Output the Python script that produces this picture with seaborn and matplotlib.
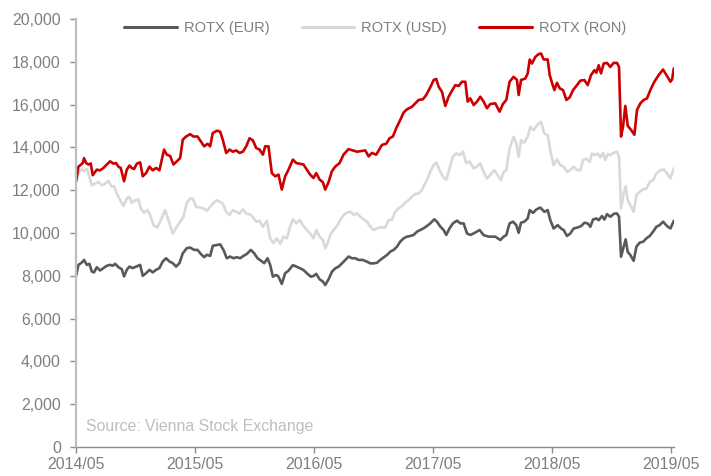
import pandas as pd
import matplotlib.pyplot as plt
import matplotlib.dates as mdates
import matplotlib.ticker as mticker
import seaborn as sns

# time is in years after 2014/05
t_eur = [0.000, 0.020, 0.048, 0.067, 0.090, 0.112, 0.132, 0.151, 0.174, 0.202, 0.230, 0.258, 0.286, 0.308,
         0.328, 0.356, 0.384, 0.403, 0.426, 0.448, 0.476, 0.504, 0.538, 0.560, 0.588, 0.616, 0.644, 0.672,
         0.700, 0.728, 0.756, 0.784, 0.812, 0.840, 0.868, 0.896, 0.930, 0.958, 0.992, 1.020, 1.048, 1.076,
         1.098, 1.126, 1.148, 1.182, 1.210, 1.238, 1.266, 1.294, 1.322, 1.350, 1.378, 1.406, 1.434, 1.468,
         1.496, 1.524, 1.552, 1.580, 1.608, 1.630, 1.653, 1.681, 1.700, 1.728, 1.756, 1.784, 1.821, 1.849,
         1.882, 1.910, 1.944, 1.972, 1.994, 2.017, 2.045, 2.073, 2.093, 2.121, 2.149, 2.177, 2.205, 2.233,
         2.261, 2.289, 2.317, 2.345, 2.373, 2.409, 2.443, 2.471, 2.499, 2.527, 2.555, 2.583, 2.611, 2.639,
         2.667, 2.695, 2.723, 2.751, 2.779, 2.807, 2.835, 2.863, 2.891, 2.919, 2.947, 2.975, 3.008, 3.031,
         3.059, 3.087, 3.109, 3.137, 3.165, 3.199, 3.227, 3.255, 3.283, 3.311, 3.339, 3.389, 3.423, 3.465,
         3.521, 3.563, 3.591, 3.613, 3.641, 3.669, 3.697, 3.717, 3.737, 3.765, 3.793, 3.810, 3.838, 3.866,
         3.899, 3.933, 3.961, 3.983, 4.011, 4.045, 4.073, 4.095, 4.123, 4.151, 4.179, 4.213, 4.241, 4.269,
         4.297, 4.319, 4.342, 4.370, 4.389, 4.417, 4.437, 4.459, 4.487, 4.521, 4.543, 4.560, 4.577, 4.599,
         4.616, 4.633, 4.655, 4.683, 4.706, 4.734, 4.762, 4.790, 4.818, 4.846, 4.874, 4.902, 4.930, 4.964,
         4.992, 5.020]
rotx_eur = [8.0, 8.51, 8.62, 8.74, 8.51, 8.56, 8.2, 8.16, 8.4, 8.25, 8.36, 8.47, 8.51, 8.47,
            8.56, 8.4, 8.31, 7.97, 8.28, 8.43, 8.36, 8.43, 8.51, 8.0, 8.12, 8.28, 8.16, 8.28,
            8.36, 8.67, 8.82, 8.67, 8.59, 8.43, 8.59, 9.05, 9.29, 9.32, 9.21, 9.21, 9.02, 8.87,
            8.98, 8.93, 9.4, 9.44, 9.47, 9.21, 8.82, 8.9, 8.82, 8.87, 8.82, 8.93, 9.02, 9.21,
            9.05, 8.82, 8.71, 8.59, 8.82, 8.51, 7.96, 8.04, 7.96, 7.62, 8.12, 8.24, 8.5, 8.43,
            8.35, 8.27, 8.09, 7.96, 7.99, 8.09, 7.84, 7.73, 7.57, 7.84, 8.19, 8.35, 8.43, 8.58,
            8.74, 8.9, 8.82, 8.82, 8.74, 8.74, 8.66, 8.58, 8.58, 8.61, 8.74, 8.86, 8.97, 9.13,
            9.21, 9.36, 9.6, 9.75, 9.83, 9.86, 9.91, 10.06, 10.14, 10.22, 10.33, 10.45, 10.64, 10.53,
            10.3, 10.14, 9.91, 10.22, 10.45, 10.58, 10.45, 10.45, 9.98, 9.91, 9.98, 10.14, 9.9, 9.83,
            9.83, 9.67, 9.83, 9.9, 10.45, 10.53, 10.37, 10.01, 10.48, 10.53, 10.68, 11.07, 10.94, 11.1,
            11.19, 10.99, 11.07, 10.6, 10.21, 10.37, 10.21, 10.14, 9.86, 9.98, 10.21, 10.26, 10.32, 10.48,
            10.45, 10.29, 10.63, 10.68, 10.6, 10.79, 10.63, 10.88, 10.76, 10.91, 10.91, 10.76, 8.89, 9.36,
            9.7, 9.12, 8.97, 8.7, 9.36, 9.55, 9.59, 9.75, 9.86, 10.06, 10.29, 10.37, 10.53, 10.32,
            10.21, 10.57]

t_usd = [0.000, 0.020, 0.048, 0.067, 0.090, 0.112, 0.132, 0.160, 0.188, 0.216, 0.244, 0.272, 0.300, 0.319,
         0.342, 0.370, 0.398, 0.426, 0.448, 0.468, 0.496, 0.524, 0.543, 0.571, 0.599, 0.622, 0.650, 0.683,
         0.711, 0.748, 0.776, 0.812, 0.846, 0.874, 0.902, 0.930, 0.958, 0.980, 1.008, 1.042, 1.070, 1.098,
         1.126, 1.154, 1.182, 1.210, 1.232, 1.260, 1.288, 1.316, 1.345, 1.373, 1.401, 1.429, 1.457, 1.485,
         1.513, 1.541, 1.569, 1.602, 1.630, 1.658, 1.686, 1.714, 1.742, 1.770, 1.798, 1.821, 1.849, 1.877,
         1.905, 1.938, 1.966, 1.994, 2.017, 2.045, 2.073, 2.093, 2.112, 2.140, 2.163, 2.191, 2.219, 2.247,
         2.275, 2.303, 2.331, 2.359, 2.387, 2.415, 2.443, 2.471, 2.499, 2.527, 2.555, 2.597, 2.625, 2.653,
         2.681, 2.709, 2.737, 2.765, 2.793, 2.821, 2.849, 2.877, 2.905, 2.924, 2.947, 2.975, 3.003, 3.025,
         3.053, 3.081, 3.109, 3.137, 3.165, 3.193, 3.221, 3.249, 3.277, 3.305, 3.339, 3.367, 3.395, 3.423,
         3.451, 3.479, 3.513, 3.541, 3.569, 3.591, 3.613, 3.641, 3.675, 3.697, 3.717, 3.737, 3.765, 3.793,
         3.815, 3.843, 3.871, 3.905, 3.933, 3.961, 3.983, 4.011, 4.039, 4.067, 4.095, 4.123, 4.151, 4.179,
         4.207, 4.235, 4.258, 4.286, 4.314, 4.333, 4.361, 4.381, 4.403, 4.426, 4.445, 4.465, 4.487, 4.515,
         4.543, 4.560, 4.577, 4.599, 4.616, 4.633, 4.655, 4.683, 4.706, 4.734, 4.762, 4.790, 4.818, 4.846,
         4.874, 4.908, 4.936, 4.964, 4.992, 5.020]
rotx_usd = [12.39, 12.78, 13.0, 12.9, 13.0, 12.62, 12.23, 12.31, 12.39, 12.23, 12.31, 12.43, 12.16, 12.19,
            11.84, 11.53, 11.26, 11.61, 11.69, 11.41, 11.53, 11.57, 11.15, 10.95, 11.07, 10.84, 10.37, 10.26,
            10.6, 11.07, 10.6, 9.98, 10.29, 10.53, 10.76, 11.41, 11.61, 11.61, 11.22, 11.19, 11.15, 11.04,
            11.22, 11.41, 11.53, 11.45, 11.38, 10.99, 10.84, 11.07, 10.99, 10.91, 11.1, 10.91, 10.88, 10.76,
            10.53, 10.57, 10.29, 10.57, 9.75, 9.52, 9.75, 9.49, 9.83, 9.75, 10.3, 10.64, 10.45, 10.61,
            10.37, 10.14, 9.98, 9.75, 10.14, 9.83, 9.67, 9.28, 9.52, 9.98, 10.14, 10.33, 10.61, 10.84,
            10.95, 11.0, 10.84, 10.92, 10.76, 10.64, 10.53, 10.3, 10.14, 10.22, 10.26, 10.26, 10.61, 10.61,
            11.0, 11.15, 11.26, 11.42, 11.54, 11.7, 11.82, 11.85, 12.01, 12.24, 12.48, 12.87, 13.18, 13.29,
            12.94, 12.63, 12.48, 13.02, 13.57, 13.72, 13.64, 13.8, 13.26, 13.34, 13.02, 13.1, 13.25, 12.86,
            12.55, 12.71, 12.94, 12.71, 12.47, 12.86, 12.94, 13.95, 14.5, 14.19, 13.56, 14.34, 14.22, 14.5,
            14.96, 14.81, 15.04, 15.2, 14.65, 14.57, 13.87, 13.17, 13.44, 13.17, 13.1, 12.86, 12.94, 13.1,
            12.94, 12.94, 13.41, 13.48, 13.33, 13.72, 13.64, 13.72, 13.53, 13.75, 13.41, 13.69, 13.64, 13.75,
            13.8, 13.56, 11.15, 11.85, 12.19, 11.54, 11.3, 10.99, 11.77, 11.93, 12.04, 12.08, 12.39, 12.47,
            12.78, 12.94, 12.97, 12.78, 12.55, 13.02]

t_ron = [0.000, 0.020, 0.056, 0.067, 0.084, 0.104, 0.123, 0.140, 0.174, 0.202, 0.230, 0.258, 0.286, 0.314,
         0.336, 0.356, 0.375, 0.403, 0.426, 0.448, 0.468, 0.487, 0.510, 0.538, 0.560, 0.588, 0.616, 0.644,
         0.672, 0.700, 0.720, 0.739, 0.762, 0.790, 0.818, 0.846, 0.874, 0.896, 0.924, 0.958, 0.986, 1.020,
         1.048, 1.076, 1.104, 1.126, 1.148, 1.182, 1.210, 1.232, 1.261, 1.289, 1.317, 1.345, 1.373, 1.401,
         1.429, 1.457, 1.485, 1.513, 1.541, 1.569, 1.588, 1.616, 1.644, 1.672, 1.700, 1.728, 1.756, 1.784,
         1.821, 1.849, 1.877, 1.910, 1.938, 1.966, 1.994, 2.017, 2.045, 2.073, 2.092, 2.120, 2.148, 2.176,
         2.213, 2.246, 2.288, 2.359, 2.429, 2.457, 2.485, 2.521, 2.569, 2.605, 2.633, 2.661, 2.689, 2.723,
         2.751, 2.779, 2.821, 2.849, 2.877, 2.913, 2.941, 2.975, 3.003, 3.025, 3.045, 3.073, 3.101, 3.129,
         3.157, 3.185, 3.213, 3.241, 3.269, 3.289, 3.311, 3.339, 3.367, 3.395, 3.423, 3.451, 3.479, 3.521,
         3.557, 3.585, 3.613, 3.641, 3.675, 3.703, 3.717, 3.737, 3.773, 3.793, 3.810, 3.829, 3.857, 3.885,
         3.905, 3.927, 3.961, 3.978, 3.997, 4.017, 4.039, 4.062, 4.090, 4.118, 4.146, 4.174, 4.207, 4.235,
         4.269, 4.297, 4.325, 4.353, 4.370, 4.389, 4.409, 4.431, 4.459, 4.487, 4.515, 4.543, 4.560, 4.577,
         4.594, 4.613, 4.633, 4.661, 4.689, 4.711, 4.739, 4.767, 4.795, 4.823, 4.857, 4.893, 4.930, 4.958,
         4.992, 5.006, 5.020]
rotx_ron = [12.42, 13.1, 13.27, 13.5, 13.27, 13.2, 13.25, 12.7, 12.96, 12.93, 13.04, 13.2, 13.35, 13.24,
            13.27, 13.1, 13.04, 12.42, 12.96, 13.15, 13.04, 12.99, 13.24, 13.3, 12.65, 12.8, 13.1, 12.93,
            13.04, 12.93, 13.43, 13.9, 13.66, 13.6, 13.2, 13.35, 13.5, 14.36, 14.51, 14.62, 14.51, 14.51,
            14.28, 14.05, 14.17, 14.05, 14.67, 14.78, 14.74, 14.36, 13.74, 13.9, 13.8, 13.86, 13.74, 13.8,
            14.05, 14.43, 14.33, 13.97, 13.9, 13.66, 14.05, 14.05, 12.8, 12.65, 12.73, 12.03, 12.65, 12.96,
            13.43, 13.27, 13.24, 13.2, 12.96, 12.73, 12.57, 12.8, 12.5, 12.37, 12.03, 12.37, 12.88, 13.1,
            13.27, 13.66, 13.92, 13.8, 13.86, 13.58, 13.74, 13.66, 14.12, 14.17, 14.43, 14.51, 14.9, 15.29,
            15.63, 15.78, 15.9, 16.06, 16.22, 16.25, 16.45, 16.81, 17.15, 17.2, 16.84, 16.6, 15.94, 16.37,
            16.65, 16.91, 16.87, 17.07, 17.07, 16.14, 16.29, 15.98, 16.14, 16.37, 16.14, 15.83, 16.03, 16.06,
            15.67, 16.03, 16.22, 17.07, 17.3, 17.15, 16.45, 17.15, 17.22, 17.46, 18.11, 17.92, 18.23, 18.36,
            18.39, 18.11, 18.11, 17.38, 17.02, 16.68, 17.02, 16.76, 16.68, 16.22, 16.34, 16.68, 16.91, 17.12,
            17.15, 16.91, 17.38, 17.61, 17.49, 17.84, 17.46, 17.92, 17.95, 17.76, 17.95, 17.95, 17.76, 14.51,
            14.98, 15.94, 15.01, 14.82, 14.59, 15.75, 16.06, 16.22, 16.29, 16.68, 17.07, 17.38, 17.64, 17.38,
            17.07, 17.18, 17.69]

series_names = ['ROTX (EUR)', 'ROTX (USD)', 'ROTX (RON)']
colors = ['#595959', '#D9D9D9', '#CC0000']
tick_years = [2014, 2015, 2016, 2017, 2018, 2019]

start = pd.Timestamp('2014-05-01')
frames = []
for name, t, v in zip(series_names, [t_eur, t_usd, t_ron], [rotx_eur, rotx_usd, rotx_ron]):
    frames.append(pd.DataFrame({
        'date': start + pd.to_timedelta([x * 365.25 for x in t], unit='D'),
        'value': [x * 1000 for x in v],
        'series': name,
    }))
df = pd.concat(frames, ignore_index=True)

sns.set_theme(style='white')
plt.rcParams['font.family'] = ['Liberation Sans', 'DejaVu Sans']

fig, ax = plt.subplots(figsize=(7.11, 4.76), dpi=100)
fig.subplots_adjust(left=0.107, right=0.948, top=0.960, bottom=0.061)

sns.lineplot(data=df, x='date', y='value', hue='series', hue_order=series_names,
             palette=colors, estimator=None, sort=True, linewidth=1.9, ax=ax)

ax.set_ylim(0, 20000)
ax.yaxis.set_major_locator(mticker.MultipleLocator(2000))
ax.yaxis.set_major_formatter(mticker.FuncFormatter(lambda v, p: f'{int(v):,}'))
ax.set_xlim(start, start + pd.to_timedelta(5.022 * 365.25, unit='D'))
ax.set_xticks([pd.Timestamp(f'{y}-05-01') for y in tick_years])
ax.xaxis.set_major_formatter(mdates.DateFormatter('%Y/%m'))
ax.set_xlabel('')
ax.set_ylabel('')

for s in ['top', 'right']:
    ax.spines[s].set_visible(False)
ax.spines['left'].set_color('#BFBFBF')
ax.spines['left'].set_linewidth(1.6)
ax.spines['bottom'].set_color('#8C8C8C')
ax.spines['bottom'].set_linewidth(1.0)
ax.tick_params(axis='both', which='major', direction='out', length=4.5, width=1,
               color='#8C8C8C', labelsize=11.4, labelcolor='#7F7F7F',
               bottom=True, left=True)
ax.tick_params(axis='y', pad=6.5)
ax.tick_params(axis='x', pad=2.5)

leg = ax.legend(loc='upper center', bbox_to_anchor=(0.5, 1.025), ncol=3, frameon=False,
                fontsize=10.5, handlelength=3.6, handletextpad=0.5, columnspacing=2.2)
for txt in leg.get_texts():
    txt.set_color('#7F7F7F')
for line in leg.get_lines():
    line.set_linewidth(2.2)

ax.text(0.017, 0.047, 'Source: Vienna Stock Exchange', transform=ax.transAxes,
        fontsize=11.4, color='#BFBFBF', ha='left', va='center')

plt.savefig('out.png', dpi=100)
